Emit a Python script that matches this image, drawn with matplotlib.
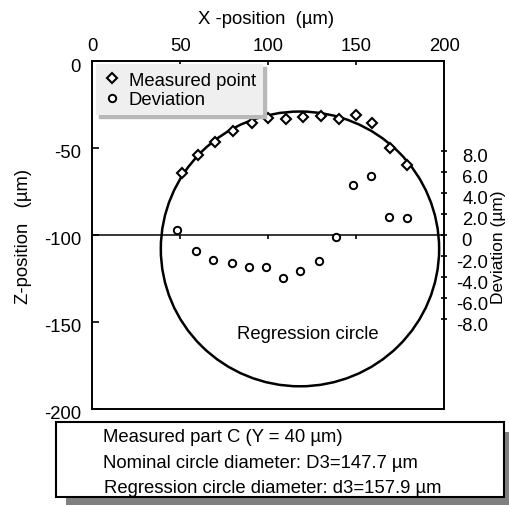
import matplotlib
matplotlib.use("Agg")
import matplotlib.pyplot as plt
from matplotlib.patches import Circle, Rectangle
from matplotlib.lines import Line2D
import matplotlib.transforms as mtransforms

plt.rcParams['font.family'] = ['Liberation Sans', 'DejaVu Sans']
plt.rcParams['axes.unicode_minus'] = False

# ---- data ----
measured_x = [51, 60, 70, 80, 91, 100, 110, 120, 130, 140, 150, 159, 169, 179]
measured_z = [-64.4, -54.0, -46.4, -40.1, -35.6, -32.8, -33.3, -32.4, -31.4, -33.3,
              -30.9, -35.8, -50.0, -59.8]
deviation_x = [48.4, 59.0, 68.5, 79.3, 88.9, 98.7, 108.2, 118.0, 128.6, 138.4,
               148.3, 158.1, 168.7, 178.6]
deviation_um = [0.5, -1.5, -2.4, -2.7, -3.0, -3.0, -4.1, -3.4, -2.5, -0.2,
                4.8, 5.6, 1.75, 1.6]
circle_center_x = 118.0
circle_center_z = -108.0
regression_diameter = 157.9
reference_z = -100

x_ticks = [0, 50, 100, 150, 200]
z_ticks = [0, -50, -100, -150, -200]
dev_ticks = [8, 6, 4, 2, 0, -2, -4, -6, -8]
dev_ticklabels = ['8.0', '6.0', '4.0', '2.0', '0   ', '-2.0', '-4.0', '-6.0', '-8.0']

info_lines = ['Measured part C (Y = 40 \u00b5m)',
              'Nominal circle diameter: D3=147.7 \u00b5m',
              'Regression circle diameter: d3=157.9 \u00b5m']

FS = 13.3
W, H = 510, 506
fig = plt.figure(figsize=(W / 100, H / 100), dpi=100)
fig.patch.set_facecolor('white')

ax = fig.add_axes([92 / W, (H - 410) / H, (444.5 - 92) / W, 348 / H])
ax.set_xlim(0, 200)
ax.set_ylim(-200, 0)
for s in ax.spines.values():
    s.set_linewidth(1.4)
ax.xaxis.tick_top()
ax.set_xticks(x_ticks)
ax.set_yticks(z_ticks)
ax.tick_params(axis='x', direction='in', length=3, width=1.2, pad=5, labelsize=FS)
ax.tick_params(axis='y', direction='in', length=5, width=1.2, pad=8, labelsize=FS)
off = mtransforms.ScaledTranslation(0, -3 / 100, fig.dpi_scale_trans)
for lbl in ax.get_yticklabels():
    lbl.set_transform(lbl.get_transform() + off)

# horizontal reference line at Z = -100 with small ticks
ax.axhline(reference_z, color='black', lw=1.1, zorder=3)
sec = ax.secondary_xaxis(0.5)
sec.set_xticks([50, 100, 150])
sec.tick_params(direction='in', length=3, width=1.2, labelbottom=False, labeltop=False)
for s in sec.spines.values():
    s.set_visible(False)

# regression circle
circ = Circle((circle_center_x, circle_center_z), regression_diameter / 2,
              fill=False, lw=1.8, edgecolor='black', zorder=2)
ax.add_patch(circ)

ax.plot(measured_x, measured_z, linestyle='none', marker='D', markersize=5.5,
        markerfacecolor='white', markeredgecolor='black', markeredgewidth=1.5, zorder=4)

ax.text(122.4, -156.5, 'Regression circle', ha='center', va='center', fontsize=FS)

# deviation axis
ax2 = ax.twinx()
ax2.set_ylim(-16.57, 16.57)
ax2.set_yticks(dev_ticks)
ax2.set_yticklabels(dev_ticklabels)
ax2.tick_params(axis='y', direction='inout', length=4, width=1.2, pad=29.5, labelsize=FS)
off2 = mtransforms.ScaledTranslation(0, -4 / 100, fig.dpi_scale_trans)
for lbl in ax2.get_yticklabels():
    lbl.set_horizontalalignment('right')
    lbl.set_transform(lbl.get_transform() + off2)
for s in ax2.spines.values():
    s.set_visible(False)
ax2.plot(deviation_x, deviation_um, linestyle='none', marker='o', markersize=5.3,
         markerfacecolor='white', markeredgecolor='black', markeredgewidth=1.4, zorder=4)

handles = [Line2D([], [], linestyle='none', marker='D', markersize=5.5, markerfacecolor='white',
                  markeredgecolor='black', markeredgewidth=1.5),
           Line2D([], [], linestyle='none', marker='o', markersize=5.3, markerfacecolor='white',
                  markeredgecolor='black', markeredgewidth=1.4)]
leg = ax2.legend(handles, ['Measured point', 'Deviation'], loc='upper left',
                 bbox_to_anchor=(0.012, 0.99), borderaxespad=0, fontsize=FS,
                 frameon=True, fancybox=False, facecolor='#efefef', edgecolor='none',
                 framealpha=1, shadow={'color': '0.72', 'alpha': 1},
                 handlelength=0.9, handletextpad=0.45, borderpad=0.4, labelspacing=0.12)

# axis titles
fig.text(266 / W, 1 - 20 / H, 'X -position  (\u00b5m)', ha='center', va='center', fontsize=FS)
fig.text(24 / W, 1 - 236 / H, 'Z-position   (\u00b5m)', ha='center', va='center',
         rotation=90, fontsize=FS)
fig.text(491 / W, 1 - 247 / H, 'Deviation (\u00b5m)', ha='left', va='center',
         rotation=90, fontsize=12.5)

# info box with shadow
fig.add_artist(Rectangle((66 / W, (H - 508) / H), 448 / W, 75 / H, transform=fig.transFigure,
                         facecolor='#808080', edgecolor='none', zorder=1))
fig.add_artist(Rectangle((56 / W, (H - 498.3) / H), 448 / W, 75 / H, transform=fig.transFigure,
                         facecolor='white', edgecolor='black', lw=1.5, zorder=2))
ys = [441.7, 468.3, 493.3]
xs = [103, 103, 104]
for t, xx, yy in zip(info_lines, xs, ys):
    fig.text(xx / W, 1 - yy / H, t, ha='left', va='baseline', fontsize=FS, zorder=3)

fig.savefig('out.png', dpi=100)
